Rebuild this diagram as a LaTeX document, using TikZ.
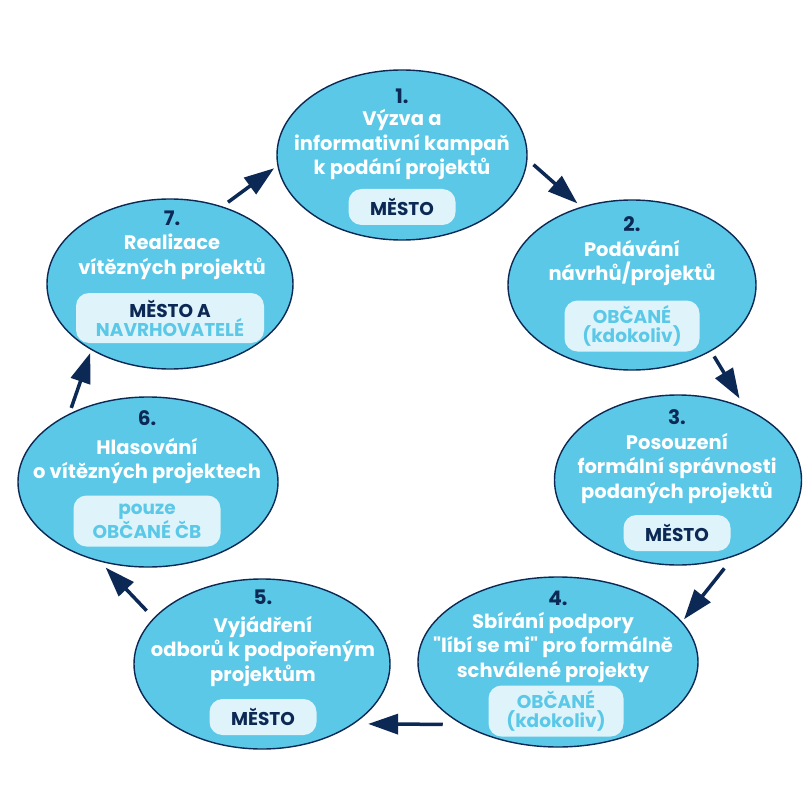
\documentclass[tikz,border=0pt]{standalone}
\usepackage{fontspec}
\setmainfont{Poppins}
\usetikzlibrary{arrows.meta, shapes.geometric}

\definecolor{sky}{RGB}{91,200,232}
\definecolor{navy}{RGB}{12,40,84}
\definecolor{pale}{RGB}{222,244,250}

\begin{document}
\begin{tikzpicture}[
  x=1pt, y=-1pt,
  stage/.style={ellipse, draw=navy, line width=1.4pt, fill=sky, inner sep=0pt, minimum height=170pt},
  num/.style={text=navy, inner sep=0pt, font=\fontsize{20}{22}\selectfont\bfseries},
  title/.style={text=white, align=center, inner sep=0pt, font=\fontsize{19.5}{24.5}\selectfont\bfseries},
  badge/.style={fill=pale, rounded corners=13pt, align=center, inner sep=0pt, minimum width=107pt, minimum height=36pt, font=\fontsize{18.5}{19}\selectfont\bfseries},
  city/.style={badge, text=navy},
  people/.style={badge, text=sky, minimum width=135pt, minimum height=51pt},
  line/.style={-{Triangle[length=30pt, width=20pt]}, line width=3.5pt, draw=navy}
]
\useasboundingbox[fill=white] (0,0) rectangle (810,810);

% Stage 1: call
\node[stage, minimum width=250pt] (e1) at (402,155) {};
\node[num] (n1) at (402,96) {1.};
\node[title] (t1) at (402,145) {Výzva a\\informativní kampaň\\k podání projektů};
\node[city] (b1) at (402,207) {MĚSTO};

% Stage 2: proposals
\node[stage, minimum width=248pt] (e2) at (632,285) {};
\node[num] (n2) at (632,224) {2.};
\node[title] (t2) at (632,263) {Podávání\\návrhů/projektů};
\node[people] (b2) at (632,326) {OBČANÉ\\(kdokoliv)};

% Stage 3: check
\node[stage, minimum width=247pt] (e3) at (678,480) {};
\node[num] (n3) at (677,417) {3.};
\node[title] (t3) at (677,468) {Posouzení\\formální správnosti\\podaných projektů};
\node[city] (b3) at (677,533) {MĚSTO};

% Stage 4: support
\node[stage, minimum width=280pt] (e4) at (558,662) {};
\node[num] (n4) at (558,598) {4.};
\node[title] (t4) at (553,647) {Sbírání podpory\\\textquotedbl líbí se mi\textquotedbl{} pro formálně\\schválené projekty};
\node[people] (b4) at (556,711) {OBČANÉ\\(kdokoliv)};

% Stage 5: departments
\node[stage, minimum width=256pt] (e5) at (262,664) {};
\node[num] (n5) at (263,597) {5.};
\node[title] (t5) at (263,651) {Vyjádření\\odborů k podpořeným\\projektům};
\node[city] (b5) at (263,717) {MĚSTO};

% Stage 6: vote
\node[stage, minimum width=260pt] (e6) at (148,482) {};
\node[num] (n6) at (147,418) {6.};
\node[title] (t6) at (147,461) {Hlasování\\o vítězných projektech};
\node[people, minimum width=147pt] (b6) at (147,521) {pouze\\OBČANÉ ČB};

% Stage 7: realisation
\node[stage, minimum width=246pt] (e7) at (170,284) {};
\node[num] (n7) at (172,218) {7.};
\node[title] (t7) at (172,257) {Realizace\\vítězných projektů};
\node[badge, minimum width=188pt, minimum height=50pt] (b7) at (170,318) {\textcolor{navy}{MĚSTO A}\\\textcolor{sky}{NAVRHOVATELÉ}};

% Connections
\draw[line, shorten <=8pt, shorten >=5pt] (e1.-2) -- (e2.123);
\draw[line, shorten <=6pt, shorten >=11pt] (e2.-40) -- (e3.47);
\draw[line, shorten <=15pt, shorten >=3pt] (e3.-54) -- (e4.18);
\draw[line, shorten <=19pt, shorten >=14pt] (e4.-147) -- (e5.-33);
\draw[line, shorten <=10pt, shorten >=8pt] (e5.157) -- (e6.-121);
\draw[line, shorten <=6pt, shorten >=3pt] (e6.139) -- (e7.-140);
\draw[line, shorten <=7pt, shorten >=4pt] (e7.56) -- (e1.-175);

\end{tikzpicture}
\end{document}
